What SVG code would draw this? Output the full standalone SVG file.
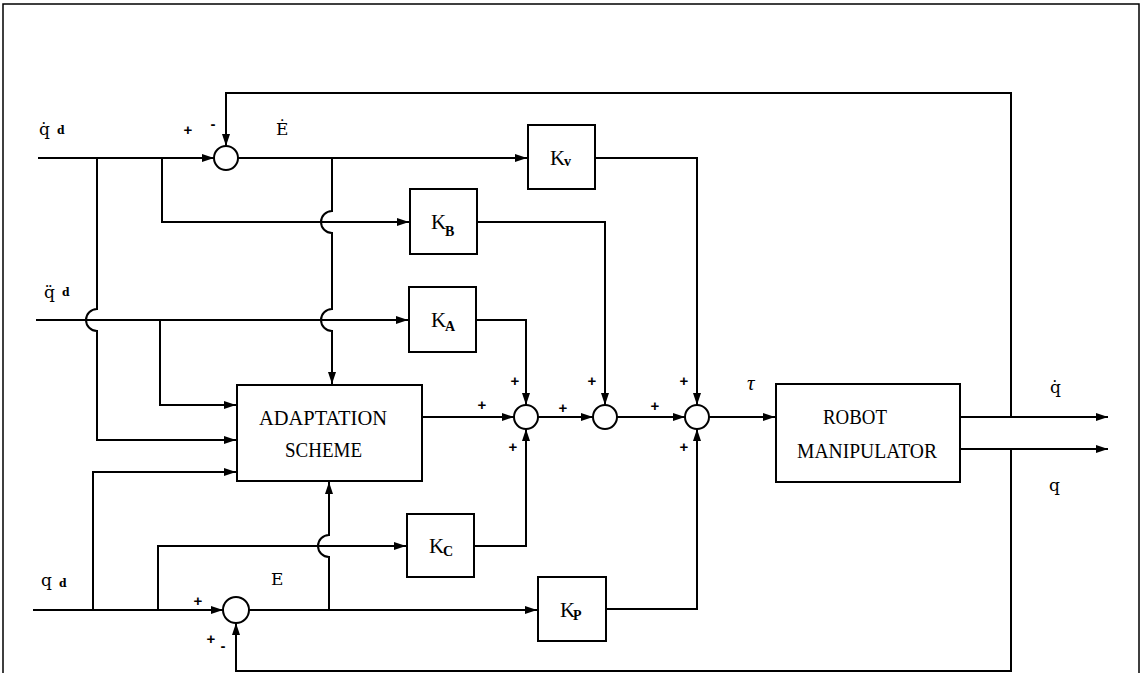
<svg xmlns="http://www.w3.org/2000/svg" width="1141" height="673" viewBox="0 0 1141 673">
<style>
.ln{fill:none;stroke:#000;stroke-width:2}
.bx{fill:#fff;stroke:#000;stroke-width:2}
.sm{fill:#fff;stroke:#000;stroke-width:2}
.tt{font-family:"Liberation Serif",serif;font-size:22px;fill:#000}
.k{font-family:"Liberation Serif",serif;font-size:21px;fill:#000}
.ks{font-family:"Liberation Serif",serif;font-size:14px;font-weight:bold;fill:#000}
.lb{font-family:"DejaVu Serif",serif;font-size:17px;fill:#000}
.sub{font-family:"DejaVu Serif",serif;font-size:11px;font-weight:bold;fill:#000}
.pm{font-family:"Liberation Sans",sans-serif;font-size:15px;font-weight:bold;fill:#000;text-anchor:middle;dominant-baseline:central}
</style>
<defs>
<marker id="ah" markerUnits="userSpaceOnUse" markerWidth="13" markerHeight="9" refX="12" refY="4" orient="auto">
<path d="M0,0 L12,4 L0,8 z" fill="#000"/>
</marker>
</defs>
<rect width="1141" height="673" fill="#fff"/>
<path class="ln" d="M3,673 V4 H1139 V673" style="stroke-width:1.5"/>
<g id="connectors">
<path class="ln" d="M38,158 H214" marker-end="url(#ah)"/>
<path class="ln" d="M97,158 V309 A11 11 0 0 0 97,331 V440 H236" marker-end="url(#ah)"/>
<path class="ln" d="M162,158 V222 H409" marker-end="url(#ah)"/>
<path class="ln" d="M238,158 H527" marker-end="url(#ah)"/>
<path class="ln" d="M332,158 V211 A11 11 0 0 0 332,233 V309 A11 11 0 0 0 332,331 V384" marker-end="url(#ah)"/>
<path class="ln" d="M595,158 H697 V405" marker-end="url(#ah)"/>
<path class="ln" d="M477,222 H605 V405" marker-end="url(#ah)"/>
<path class="ln" d="M36,320 H408" marker-end="url(#ah)"/>
<path class="ln" d="M160,320 V405 H236" marker-end="url(#ah)"/>
<path class="ln" d="M476,320 H526 V405" marker-end="url(#ah)"/>
<path class="ln" d="M422,417 H514" marker-end="url(#ah)"/>
<path class="ln" d="M538,417 H593" marker-end="url(#ah)"/>
<path class="ln" d="M617,417 H685" marker-end="url(#ah)"/>
<path class="ln" d="M709,417 H775" marker-end="url(#ah)"/>
<path class="ln" d="M960,417 H1108" marker-end="url(#ah)"/>
<path class="ln" d="M960,449 H1108" marker-end="url(#ah)"/>
<path class="ln" d="M1011,417 V93 H226 V146" marker-end="url(#ah)"/>
<path class="ln" d="M1011,449 V671 H236 V623" marker-end="url(#ah)"/>
<path class="ln" d="M33,610 H223" marker-end="url(#ah)"/>
<path class="ln" d="M93,610 V472 H236" marker-end="url(#ah)"/>
<path class="ln" d="M158,610 V546 H406" marker-end="url(#ah)"/>
<path class="ln" d="M249,610 H537" marker-end="url(#ah)"/>
<path class="ln" d="M329,610 V557 A11 11 0 0 1 329,535 V482" marker-end="url(#ah)"/>
<path class="ln" d="M474,546 H526 V429" marker-end="url(#ah)"/>
<path class="ln" d="M606,609 H697 V429" marker-end="url(#ah)"/>
</g>
<g id="sum_top"><circle class="sm" cx="226" cy="158" r="12"/><text class="pm" x="188" y="129">+</text><text class="pm" x="213" y="123">-</text></g>
<g id="sum_bottom"><circle class="sm" cx="236" cy="610" r="13"/><text class="pm" x="198" y="600">+</text><text class="pm" x="211" y="638">+</text><text class="pm" x="223" y="645">-</text></g>
<g id="sum1"><circle class="sm" cx="526" cy="417" r="12"/><text class="pm" x="515" y="380">+</text><text class="pm" x="482" y="404">+</text><text class="pm" x="513" y="446">+</text></g>
<g id="sum2"><circle class="sm" cx="605" cy="417" r="12"/><text class="pm" x="592" y="380">+</text><text class="pm" x="563" y="407">+</text></g>
<g id="sum3"><circle class="sm" cx="697" cy="417" r="12"/><text class="pm" x="684" y="380">+</text><text class="pm" x="655" y="405">+</text><text class="pm" x="684" y="446">+</text></g>
<g id="Kv"><rect class="bx" x="528" y="125" width="67" height="64"/><text class="k" x="550" y="165">K</text><text class="ks" x="564" y="166">v</text></g>
<g id="KB"><rect class="bx" x="410" y="189" width="67" height="65"/><text class="k" x="431" y="229">K</text><text class="ks" x="445" y="236">B</text></g>
<g id="KA"><rect class="bx" x="409" y="287" width="67" height="65"/><text class="k" x="431" y="327">K</text><text class="ks" x="445" y="331">A</text></g>
<g id="KC"><rect class="bx" x="407" y="514" width="67" height="63"/><text class="k" x="429" y="553">K</text><text class="ks" x="443" y="556">C</text></g>
<g id="KP"><rect class="bx" x="538" y="577" width="68" height="64"/><text class="k" x="560" y="617">K</text><text class="ks" x="573" y="620">P</text></g>
<g id="adaptation"><rect class="bx" x="237" y="385" width="185" height="96"/><text class="tt" x="259" y="425" textLength="128" lengthAdjust="spacingAndGlyphs">ADAPTATION</text><text class="tt" x="285" y="457" textLength="77" lengthAdjust="spacingAndGlyphs">SCHEME</text></g>
<g id="robot"><rect class="bx" x="776" y="384" width="184" height="98"/><text class="tt" x="823" y="424" textLength="64" lengthAdjust="spacingAndGlyphs">ROBOT</text><text class="tt" x="797" y="458" textLength="140" lengthAdjust="spacingAndGlyphs">MANIPULATOR</text></g>
<g id="labels">
<text class="lb" x="39" y="135">q̇</text><text class="sub" x="57" y="134">d</text>
<text class="lb" x="276" y="135">Ė</text>
<text class="lb" x="44" y="298">q̈</text><text class="sub" x="62" y="296">d</text>
<text class="lb" x="41" y="586">q</text><text class="sub" x="59" y="587">d</text>
<text class="lb" x="271" y="585">E</text>
<text x="747" y="390" style="font-family:'Liberation Serif',serif;font-size:21px;font-style:italic">τ</text>
<text class="lb" x="1050" y="393">q̇</text>
<text class="lb" x="1049" y="491">q</text>
</g>
</svg>
